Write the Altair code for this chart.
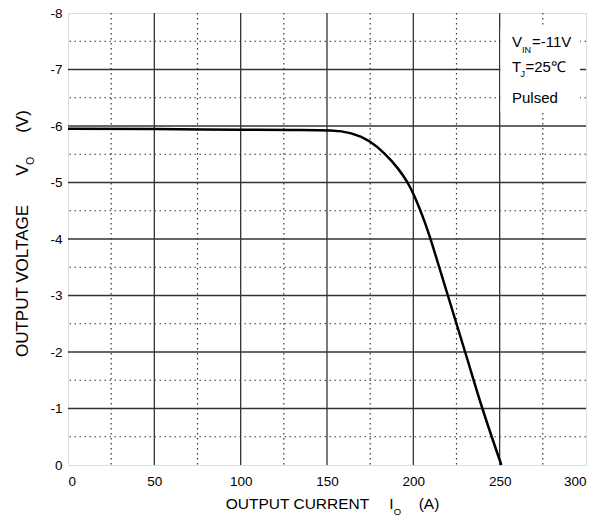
import altair as alt
import pandas as pd

# ---- data ----
current = [0, 50, 100, 130, 152, 164, 175, 183, 191, 196.6, 200.3, 203.6, 206.6, 209.3, 211.6,
           215, 220, 230, 240, 251]
voltage = [-5.95, -5.945, -5.935, -5.93, -5.92, -5.87, -5.72, -5.52, -5.25, -5.0, -4.78, -4.54,
           -4.30, -4.06, -3.84, -3.5, -3.0, -2.0, -1.0, 0.0]

x_ticks = [0, 50, 100, 150, 200, 250, 300]
y_ticks = [0, -1, -2, -3, -4, -5, -6, -7, -8]
x_major = [50, 100, 150, 200, 250]
x_minor = [25, 75, 125, 175, 225, 275]
y_major = [-1, -2, -3, -4, -5, -6, -7]
y_minor = [-0.5, -1.5, -2.5, -3.5, -4.5, -5.5, -6.5, -7.5]

FONT = "Liberation Sans, Arial, sans-serif"
GRID = "#333333"

curve = pd.DataFrame({"x": current, "y": voltage})
vmaj = pd.DataFrame({"x": x_major})
vmin = pd.DataFrame({"x": x_minor})
hmaj = pd.DataFrame({"y": y_major})
hmin = pd.DataFrame({"y": y_minor})
one = pd.DataFrame({"a": [0]})

x_enc = alt.X("x:Q", scale=alt.Scale(domain=[0, 300], nice=False, zero=False),
              axis=alt.Axis(values=x_ticks, grid=False, ticks=False, domain=False, title=None,
                            labelFontSize=13.5, labelPadding=9, labelColor="black", labelFont=FONT))
y_enc = alt.Y("y:Q", scale=alt.Scale(domain=[-8, 0], reverse=True, nice=False, zero=False),
              axis=alt.Axis(values=y_ticks, grid=False, ticks=False, domain=False, title=None,
                            labelFontSize=13.5, labelPadding=6, labelColor="black", labelFont=FONT,
                            labelExpr="'' + datum.value"))

layers = [
    alt.Chart(vmin).mark_rule(color=GRID, strokeWidth=1.2, strokeDash=[1.5, 3.5]).encode(x=x_enc),
    alt.Chart(hmin).mark_rule(color=GRID, strokeWidth=1.2, strokeDash=[1.5, 3.5]).encode(y=y_enc),
    alt.Chart(vmaj).mark_rule(color=GRID, strokeWidth=1.3).encode(x=x_enc),
    alt.Chart(hmaj).mark_rule(color=GRID, strokeWidth=1.3).encode(y=y_enc),
    alt.Chart(curve).mark_line(color="black", strokeWidth=2.5, interpolate="monotone").encode(x=x_enc, y=y_enc),
    alt.Chart(one).mark_rect(color="white").encode(
        x=alt.value(432.5), x2=alt.value(512), y=alt.value(15), y2=alt.value(99)),
]


def txt(s, x, y, size=15, angle=0, align="left", baseline="alphabetic"):
    kw = dict(text=s, fontSize=size, font=FONT, color="black", align=align, baseline=baseline)
    if angle:
        kw["angle"] = angle
    return alt.Chart(one).mark_text(**kw).encode(x=alt.value(x), y=alt.value(y))


# annotation box text
layers += [
    txt("V", 444, 34), txt("IN", 454, 40, size=9), txt("=-11V", 464, 34),
    txt("T", 444, 59), txt("J", 452.5, 64, size=9), txt("=25\u2103", 457.5, 59),
    txt("Pulsed", 444, 90),
]

# x axis title
layers += [
    txt("OUTPUT CURRENT", 229.5, 496, size=15.5, align="center"),
    txt("I", 323.5, 496, size=15.5, align="center"),
    txt("O", 329.5, 501.5, size=9.5, align="center"),
    txt("(A)", 361, 496, size=15.5, align="center"),
]

# y axis title (rotated)
layers += [
    txt("OUTPUT VOLTAGE", -40, 268, size=17, angle=270, align="center"),
    txt("V", -40, 157, size=17, angle=270, align="center"),
    txt("O", -34.5, 148, size=10.5, angle=270, align="center"),
    txt("(V)", -40, 108.5, size=17, angle=270, align="center"),
]

chart = alt.layer(*layers).properties(
    width=518, height=452, autosize="none",
    padding={"left": 60, "top": 5, "right": 15, "bottom": 50},
).configure_view(stroke=GRID, strokeWidth=1.5).configure(font=FONT)

chart.save("out.html", embed_options={"renderer": "svg", "actions": False})
